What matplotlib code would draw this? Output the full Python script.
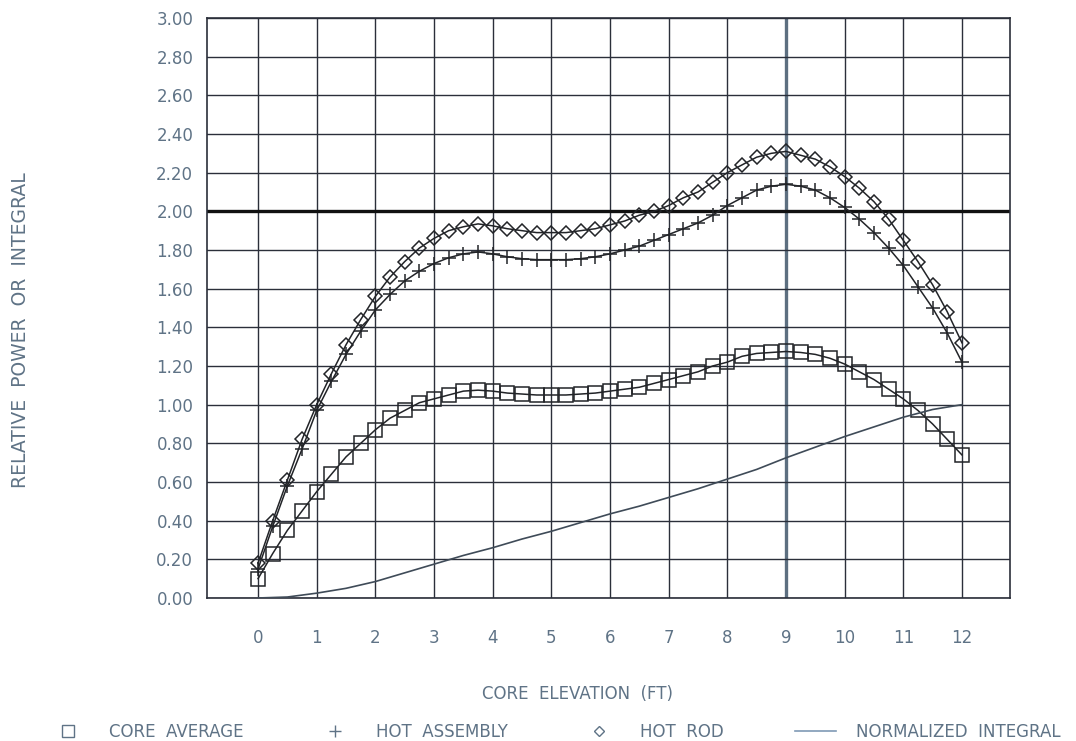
import matplotlib.pyplot as plt
from matplotlib.lines import Line2D

# core elevation (ft), markers every 0.25 ft
elev = [i * 0.25 for i in range(49)]

core_avg = [0.10, 0.23, 0.35, 0.45, 0.55, 0.64, 0.73, 0.80, 0.87, 0.93,
            0.97, 1.01, 1.03, 1.05, 1.07, 1.075, 1.07, 1.06, 1.055, 1.05,
            1.05, 1.05, 1.055, 1.06, 1.07, 1.08, 1.09, 1.11, 1.13, 1.15,
            1.17, 1.20, 1.22, 1.25, 1.265, 1.27, 1.275, 1.27, 1.26, 1.24,
            1.21, 1.17, 1.13, 1.08, 1.03, 0.97, 0.90, 0.82, 0.74]

hot_assembly = [0.15, 0.37, 0.58, 0.77, 0.97, 1.12, 1.26, 1.38, 1.49, 1.57,
                1.64, 1.69, 1.73, 1.76, 1.78, 1.79, 1.78, 1.765, 1.755, 1.75,
                1.75, 1.75, 1.755, 1.765, 1.78, 1.80, 1.82, 1.85, 1.88, 1.91,
                1.94, 1.98, 2.03, 2.07, 2.11, 2.13, 2.14, 2.13, 2.11, 2.07,
                2.02, 1.96, 1.89, 1.81, 1.72, 1.61, 1.50, 1.37, 1.22]

hot_rod = [0.18, 0.40, 0.61, 0.82, 1.00, 1.16, 1.31, 1.44, 1.56, 1.66,
           1.74, 1.81, 1.86, 1.90, 1.92, 1.935, 1.925, 1.91, 1.90, 1.89,
           1.89, 1.89, 1.90, 1.91, 1.93, 1.95, 1.98, 2.00, 2.03, 2.07,
           2.10, 2.15, 2.20, 2.24, 2.28, 2.30, 2.31, 2.29, 2.27, 2.23,
           2.18, 2.12, 2.05, 1.96, 1.85, 1.74, 1.62, 1.48, 1.32]

# normalized integral, read every 0.5 ft
elev_int = [i * 0.5 for i in range(25)]
norm_integral = [0.0, 0.005, 0.025, 0.05, 0.085, 0.13, 0.175, 0.22, 0.26,
                 0.305, 0.345, 0.39, 0.435, 0.475, 0.52, 0.565, 0.615, 0.665,
                 0.725, 0.78, 0.835, 0.885, 0.935, 0.975, 1.00]

x_ticks = list(range(13))
y_ticks = [i * 0.2 for i in range(16)]

text_col = "#5f7386"
grid_col = "#2b2f3a"
mark_col = "#222428"

fig = plt.figure(figsize=(10.76, 7.41), dpi=100)
ax = fig.add_axes([0.1924, 0.193, 0.7463, 0.7827])

ax.set_xlim(-0.87, 12.82)
ax.set_ylim(0, 3.0)
ax.set_xticks(x_ticks)
ax.set_yticks(y_ticks)
ax.set_xticklabels([str(t) for t in x_ticks])
ax.set_yticklabels([f"{t:.2f}" for t in y_ticks])
ax.tick_params(length=0, labelsize=12, colors=text_col)
ax.tick_params(axis="x", pad=22)
ax.tick_params(axis="y", pad=10)

# grid
for xv in x_ticks:
    lw, col = (2.4, "#5d6f80") if xv == 9 else (1.0, grid_col)
    ax.axvline(xv, color=col, lw=lw, zorder=1)
for yv in y_ticks:
    lw, col = (2.4, "#111111") if abs(yv - 2.0) < 1e-6 else (1.0, grid_col)
    ax.axhline(yv, color=col, lw=lw, zorder=1)
for s in ax.spines.values():
    s.set_color(grid_col)
    s.set_linewidth(1.2)

ax.plot(elev, core_avg, color=mark_col, lw=1.1, marker="s", ms=10,
        mfc="none", mec=mark_col, mew=1.1, zorder=3)
ax.plot(elev, hot_assembly, color=mark_col, lw=1.1, marker="+", ms=10,
        mew=1.1, zorder=3)
ax.plot(elev, hot_rod, color=mark_col, lw=1.1, marker="D", ms=7,
        mfc="none", mec=mark_col, mew=1.1, zorder=3)
ax.plot(elev_int, norm_integral, color="#3f4b58", lw=1.2, zorder=3)

ax.set_ylabel("RELATIVE  POWER  OR  INTEGRAL", fontsize=13.5, color=text_col)
ax.yaxis.set_label_coords(-0.22, 0.462)
fig.text(0.537, 0.064, "CORE  ELEVATION  (FT)", fontsize=12, color=text_col,
         ha="center", va="center")

handles = [
    Line2D([], [], ls="none", marker="s", ms=8, mfc="none", mec=text_col, mew=1),
    Line2D([], [], ls="none", marker="+", ms=8, mec=text_col, mew=1),
    Line2D([], [], ls="none", marker="D", ms=5, mfc="none", mec=text_col, mew=1),
    Line2D([], [], color="#7f9ab5", lw=1.2),
]
labels = ["CORE  AVERAGE", "HOT  ASSEMBLY", "HOT  ROD", "NORMALIZED  INTEGRAL"]
leg = fig.legend(handles, labels, loc="center", ncol=4, frameon=False,
                 bbox_to_anchor=(0.03, 0.0, 0.97, 0.025), mode="expand",
                 fontsize=12, handlelength=2.5, handletextpad=1.2)
for t in leg.get_texts():
    t.set_color(text_col)

fig.savefig("out.png", dpi=100, facecolor="white")
